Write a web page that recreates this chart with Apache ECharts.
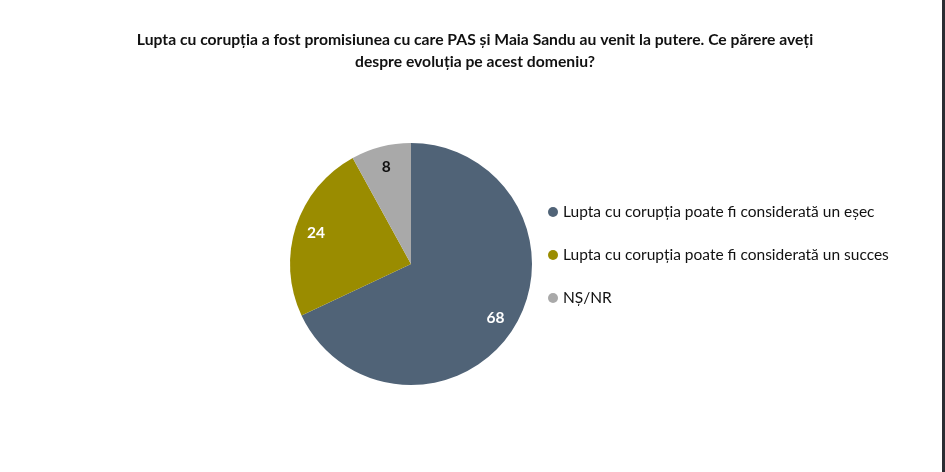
<!DOCTYPE html>
<html>
<head>
<meta charset="utf-8">
<script src="https://cdn.jsdelivr.net/npm/echarts@6/dist/echarts.min.js"></script>
<style>
  html, body { margin: 0; padding: 0; background: #ffffff; }
  #chart { width: 945px; height: 472px; }
  #edge { position: absolute; top: 0; left: 942px; width: 3px; height: 472px; background: #2b2d33; }
</style>
</head>
<body>
<div id="chart"></div>
<div id="edge"></div>
<script>
// date din grafic
var categories = [
    'Lupta cu corupția poate fi considerată un eșec',
    'Lupta cu corupția poate fi considerată un succes',
    'NȘ/NR'
];
var values = [68, 24, 8];
var colors = ['#506377', '#9a8c00', '#a9a9a9'];
var labelColors = ['#ffffff', '#ffffff', '#111111'];

var titleText = 'Lupta cu corupția a fost promisiunea cu care PAS și Maia Sandu au venit la putere. Ce părere aveți\ndespre evoluția pe acest domeniu?';

var chart = echarts.init(document.getElementById('chart'));

var pieData = categories.map(function (name, i) {
    return { name: name, value: values[i], itemStyle: { color: colors[i] } };
});

// seria de etichete: inel transparent, ca textul sa stea la ~80% din raza
var labelData = categories.map(function (name, i) {
    return {
        name: name,
        value: values[i],
        itemStyle: { color: 'rgba(0,0,0,0)' },
        label: { color: labelColors[i] }
    };
});

var option = {
    backgroundColor: '#ffffff',
    animation: false,
    title: {
        text: titleText,
        left: 470,
        textAlign: 'center',
        top: 24,
        textStyle: {
            fontFamily: 'Lato',
            fontWeight: 'bold',
            fontSize: 15.7,
            lineHeight: 22,
            color: '#111111'
        }
    },
    legend: {
        orient: 'vertical',
        left: 543,
        top: 199,
        icon: 'circle',
        itemWidth: 10,
        itemHeight: 10,
        itemGap: 27,
        data: categories,
        textStyle: {
            fontFamily: 'Lato',
            fontSize: 15.5,
            color: '#111111'
        }
    },
    series: [
        {
            type: 'pie',
            center: [411, 264],
            radius: [0, 121],
            startAngle: 90,
            clockwise: true,
            label: { show: false },
            labelLine: { show: false },
            emphasis: { disabled: true },
            data: pieData
        },
        {
            type: 'pie',
            center: [411, 264],
            radius: [73, 121],
            startAngle: 90,
            clockwise: true,
            silent: true,
            legendHoverLink: false,
            label: {
                show: true,
                position: 'inside',
                formatter: '{c}',
                fontFamily: 'Lato',
                fontWeight: 'bold',
                fontSize: 15.5
            },
            labelLine: { show: false },
            emphasis: { disabled: true },
            data: labelData
        }
    ]
};

chart.setOption(option);
</script>
</body>
</html>
